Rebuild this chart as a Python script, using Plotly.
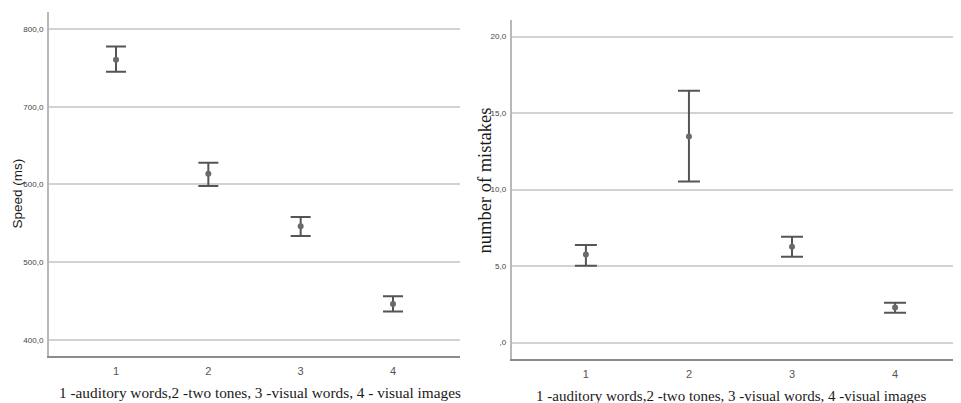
import plotly.graph_objects as go

groups = [1, 2, 3, 4]

speed_mean = [760.4, 613.7, 546.0, 446.0]
speed_upper = [777.6, 628.0, 558.0, 456.0]
speed_lower = [745.0, 598.0, 533.5, 436.4]

mist_mean = [5.76, 13.48, 6.26, 2.29]
mist_upper = [6.39, 16.46, 6.92, 2.61]
mist_lower = [5.02, 10.54, 5.61, 1.96]

speed_ticks = [400, 500, 600, 700, 800]
speed_ticktext = ["400,0", "500,0", "600,0", "700,0", "800,0"]
mist_ticks = [0, 5, 10, 15, 20]
mist_ticktext = [",0", "5,0", "10,0", "15,0", "20,0"]
x_ticktext = ["1", "2", "3", "4"]

x_title = "1 -auditory words,2 -two tones, 3 -visual words, 4 - visual images"
x_title_r = "1 -auditory words,2 -two tones, 3 -visual words, 4 -visual images"

# page body has an 8px margin; figure is sized to fit the window
OFF = 8
W, H = 961 - OFF, 403 - OFF


def px(v):
    return (v - OFF) / W


def py(v):
    return 1 - (v - OFF) / H


fig = go.Figure()


def add_series(mean, upper, lower, xa, ya, width):
    fig.add_trace(go.Scatter(
        x=groups, y=mean, mode="markers", xaxis=xa, yaxis=ya,
        marker=dict(size=6, color="#6a6a6a"),
        error_y=dict(type="data", symmetric=False,
                     array=[u - m for u, m in zip(upper, mean)],
                     arrayminus=[m - l for m, l in zip(mean, lower)],
                     color="#555555", thickness=2, width=width),
        showlegend=False, hoverinfo="skip"))


add_series(speed_mean, speed_upper, speed_lower, "x", "y", 10)
add_series(mist_mean, mist_upper, mist_lower, "x2", "y2", 11)

tickfont_y = dict(family="Liberation Sans", size=8, color="#444444")
tickfont_x = dict(family="Liberation Sans", size=11, color="#555555")

fig.update_layout(
    width=W, height=H,
    margin=dict(l=0, r=0, t=0, b=0),
    paper_bgcolor="white", plot_bgcolor="white",
    xaxis=dict(domain=[px(49), px(460)], range=[0.274, 4.726],
               tickvals=groups, ticktext=x_ticktext, tickfont=tickfont_x,
               showgrid=False, zeroline=False, showline=True,
               linecolor="#8c8c8c", linewidth=2, ticks="", anchor="y",
               ticklabelstandoff=4),
    yaxis=dict(domain=[py(355.7), py(12)], range=[379.4, 822],
               tickvals=speed_ticks, ticktext=speed_ticktext, tickfont=tickfont_y,
               showgrid=True, gridcolor="#d2d2d2", gridwidth=1.5,
               zeroline=False, showline=True, linecolor="#b8b8b8", linewidth=2,
               ticks="", anchor="x", ticklabelstandoff=2),
    xaxis2=dict(domain=[px(511.7), 1.0], range=[0.28, 4.64],
                tickvals=groups, ticktext=x_ticktext, tickfont=tickfont_x,
                showgrid=False, zeroline=False, showline=True,
                linecolor="#8c8c8c", linewidth=2, ticks="", anchor="y2",
                ticklabelstandoff=4),
    yaxis2=dict(domain=[py(358.7), py(20)], range=[-1.05, 21.09],
                tickvals=mist_ticks, ticktext=mist_ticktext, tickfont=tickfont_y,
                showgrid=True, gridcolor="#d2d2d2", gridwidth=1.5,
                zeroline=False, showline=True, linecolor="#b8b8b8", linewidth=2,
                ticks="", anchor="x2", ticklabelstandoff=2),
    annotations=[
        dict(text="Speed (ms)", x=px(17), y=py(193.5), xref="paper", yref="paper",
             textangle=-90, showarrow=False, xanchor="center", yanchor="middle",
             font=dict(family="Liberation Sans", size=13.5, color="#1a1a1a")),
        dict(text="number of mistakes", x=px(484), y=py(180.5), xref="paper", yref="paper",
             textangle=-90, showarrow=False, xanchor="center", yanchor="middle",
             font=dict(family="Liberation Serif", size=18.5, color="#1a1a1a")),
        dict(text=x_title, x=px(260), y=py(392), xref="paper", yref="paper",
             showarrow=False, xanchor="center", yanchor="middle",
             font=dict(family="Liberation Serif", size=15.3, color="#1a1a1a")),
        dict(text=x_title_r, x=px(731), y=py(396), xref="paper", yref="paper",
             showarrow=False, xanchor="center", yanchor="middle",
             font=dict(family="Liberation Serif", size=15, color="#1a1a1a")),
    ],
)

fig.write_html("out.html")
